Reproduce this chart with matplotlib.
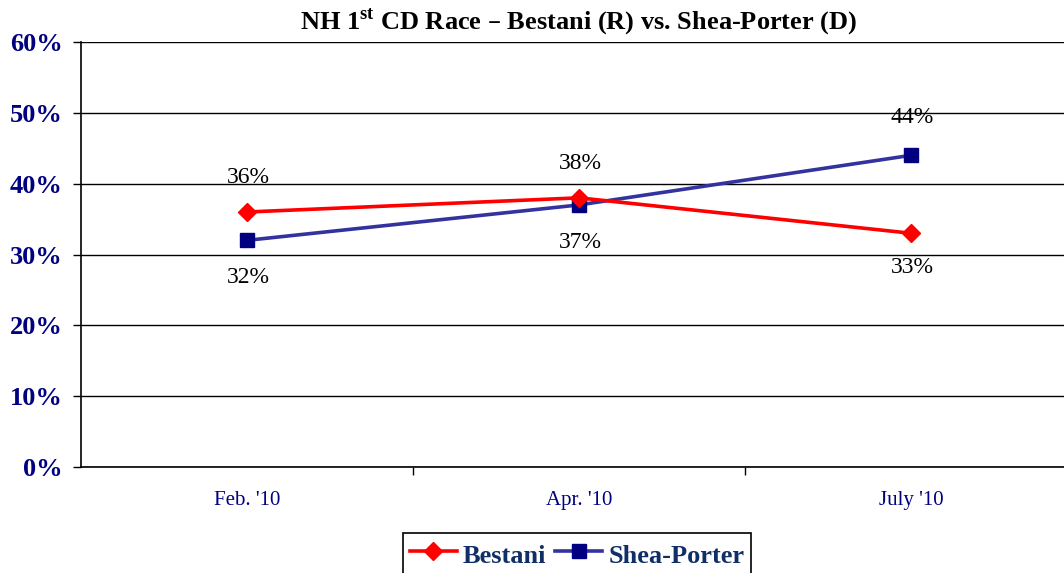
import matplotlib
matplotlib.use("Agg")
import matplotlib.pyplot as plt
from matplotlib.ticker import FixedLocator, FuncFormatter

categories = ["Feb. '10", "Apr. '10", "July '10"]
bestani = [36, 38, 33]
shea_porter = [32, 37, 44]
yticks = [0, 10, 20, 30, 40, 50, 60]

serif = ["Liberation Serif", "DejaVu Serif"]
plt.rcParams['font.family'] = serif

W, H = 1064, 573
fig = plt.figure(figsize=(W / 100, H / 100), dpi=100)
left, right, top, bottom = 81, 1077, 42, 467
ax = fig.add_axes([left / W, 1 - bottom / H, (right - left) / W, (bottom - top) / H])

x = [i + 0.5 for i in range(len(categories))]
navy = "#000080"
ax.plot(x, bestani, color="#FF0000", lw=2.6, marker="D", markersize=9,
        markerfacecolor="#FF0000", markeredgecolor="#FF0000", label="Bestani", zorder=4)
ax.plot(x, shea_porter, color="#3333A0", lw=2.6, marker="s", markersize=10,
        markerfacecolor=navy, markeredgecolor=navy, label="Shea-Porter", zorder=3)

ax.set_xlim(0, 3)
ax.set_ylim(0, 60)
ax.yaxis.set_major_locator(FixedLocator(yticks))
ax.yaxis.set_major_formatter(FuncFormatter(lambda v, p: f"{int(v)}%"))
ax.grid(axis="y", color="black", lw=1)
ax.set_axisbelow(True)

ax.xaxis.set_major_locator(FixedLocator([1, 2]))
ax.xaxis.set_minor_locator(FixedLocator(x))
ax.set_xticklabels([], minor=False)
ax.set_xticks(x, minor=True)
ax.set_xticklabels(categories, minor=True, color=navy, fontsize=15)
ax.tick_params(axis="x", which="minor", length=0, pad=17)
ax.tick_params(axis="x", which="major", length=6, width=1, direction="out", color="black")
ax.tick_params(axis="y", length=6, width=1, direction="out", pad=7)
for lab in ax.get_yticklabels():
    lab.set_fontweight("bold")
    lab.set_color(navy)
    lab.set_fontsize(19)

for s in ["top", "right"]:
    ax.spines[s].set_visible(False)
ax.spines["left"].set_linewidth(1.2)
ax.spines["bottom"].set_linewidth(1.2)

# data labels
b_off = [1, 1, -1]
s_off = [-1, -1, 1]
for xi, v, o in zip(x, bestani, b_off):
    ax.annotate(f"{v}%", (xi, v), xytext=(1, 25 * o), textcoords="offset points",
                ha="center", va="center", fontsize=17, color="black")
for xi, v, o in zip(x, shea_porter, s_off):
    ax.annotate(f"{v}%", (xi, v), xytext=(1, 27 * o), textcoords="offset points",
                ha="center", va="center", fontsize=17, color="black")

fig.text(579 / W, 1 - 22 / H, r"NH 1$^{\mathregular{st}}$ CD Race – Bestani (R) vs. Shea-Porter (D)",
         ha="center", va="center", fontsize=19, fontweight="bold")

leg = fig.legend(loc="upper center", bbox_to_anchor=(577 / W, 1 - 533 / H), ncol=2,
                 frameon=True, fancybox=False, edgecolor="black", framealpha=1,
                 prop={"family": serif, "weight": "bold", "size": 19},
                 handlelength=1.78, handleheight=1.3, columnspacing=0.34,
                 handletextpad=0.23, borderpad=0.25, borderaxespad=0)
leg.get_frame().set_linewidth(1.2)
for t in leg.get_texts():
    t.set_color("#0F2F66")

fig.savefig("out.png", dpi=100)
